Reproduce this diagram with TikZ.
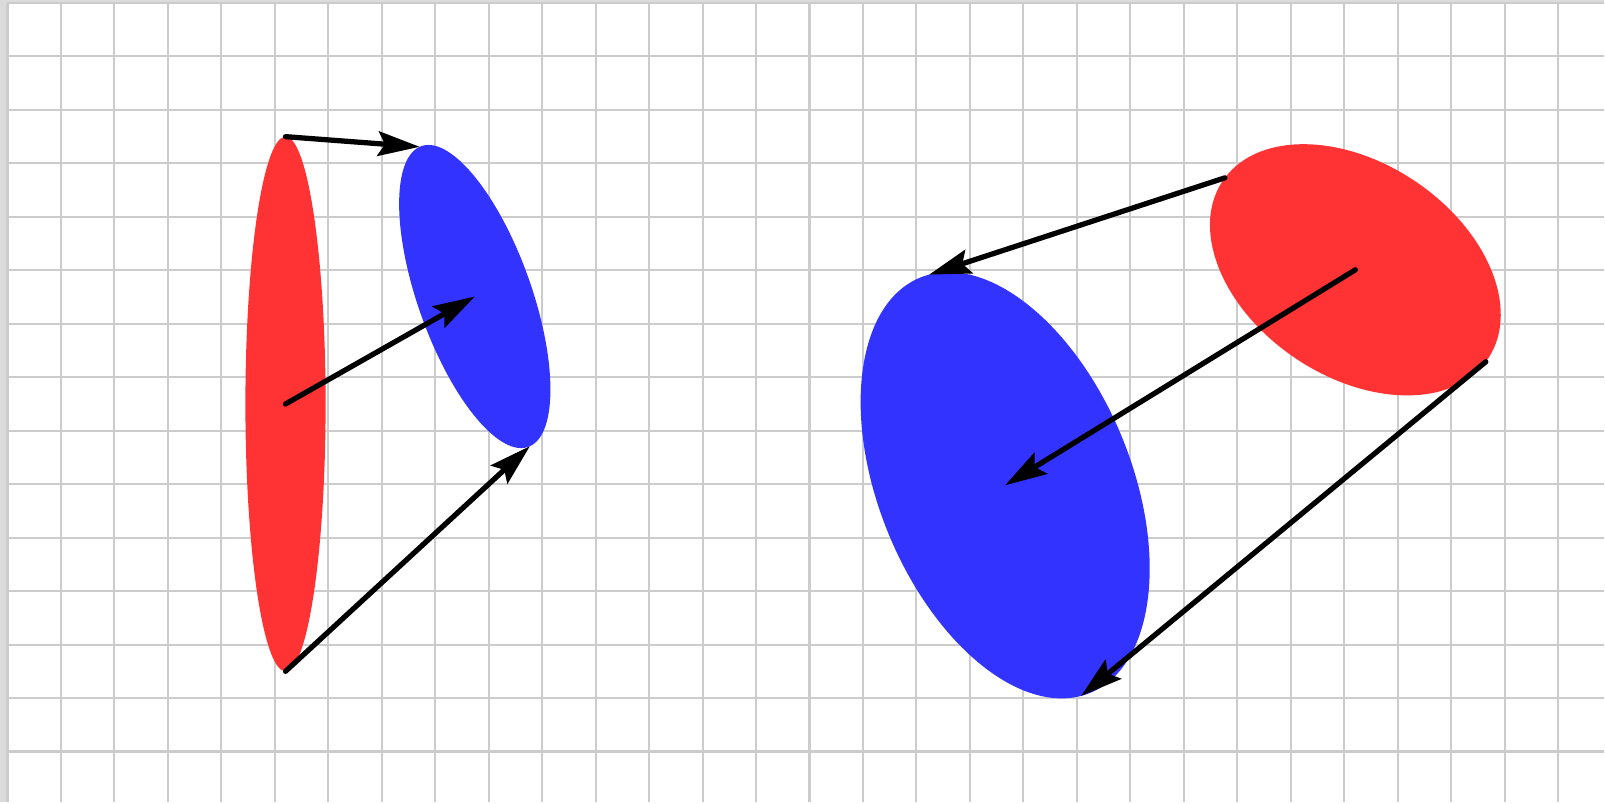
\documentclass[tikz,border=0pt]{standalone}
\usepackage{tikz}
\usetikzlibrary{arrows.meta}
\definecolor{setred}{HTML}{FF3333}
\definecolor{setblue}{HTML}{3333FF}

\begin{document}
\begin{tikzpicture}[
    > = {Stealth[length=0.78cm, width=0.46cm, inset=0.13cm]}, % big heads
    map/.style={->, line width=2.8pt, line cap=round},
    gridline/.style={gray!40, line width=1.1pt}
]

% --- PAPER: margin and grid ---
\fill[gray!28] (-0.14,0.056) rectangle (29.86,-14.953);
\fill[white] (0,0) rectangle (29.86,-14.953);
\draw[gridline, step=1] (0,-14.953) grid (29.86,0);
\useasboundingbox (-0.14,0.056) rectangle (29.86,-14.953);

% --- LEFT SIDE: red set and its image ---
\begin{scope}[cm={0.75,0,0,5,(5.2,-7.5)}]
    \fill[setred] (0,0) circle (1);
    \coordinate (r1t) at (0,1);
    \coordinate (r1c) at (0,0);
    \coordinate (r1b) at (0,-1);
\end{scope}
\begin{scope}[cm={0.97,0.44,-1.03,2.80,(8.74,-5.49)}]
    \fill[setblue] (0,0) circle (1);
    \coordinate (b1t) at (0,1);
    \coordinate (b1c) at (0,0);
    \coordinate (b1b) at (0,-1);
\end{scope}

% --- RIGHT SIDE: red set and its image ---
\begin{scope}[cm={1.2,1.6,-2.44,1.72,(25.21,-4.99)}]
    \fill[setred] (0,0) circle (1);
    \coordinate (r2t) at (0,1);
    \coordinate (r2c) at (0,0);
    \coordinate (r2b) at (0,-1);
\end{scope}
\begin{scope}[cm={2.3,0.6,-1.42,3.94,(18.66,-9.02)}]
    \fill[setblue] (0,0) circle (1);
    \coordinate (b2t) at (0,1);
    \coordinate (b2c) at (0,0);
    \coordinate (b2b) at (0,-1);
\end{scope}

% --- MAPPING ARROWS ---
\draw[map] (r1t) -- (b1t);
\draw[map] (r1c) -- (b1c);
\draw[map] (r1b) -- (b1b);

\draw[map] (r2t) -- (b2t);
\draw[map] (r2c) -- (b2c);
\draw[map] (r2b) -- (b2b);

\end{tikzpicture}
\end{document}
